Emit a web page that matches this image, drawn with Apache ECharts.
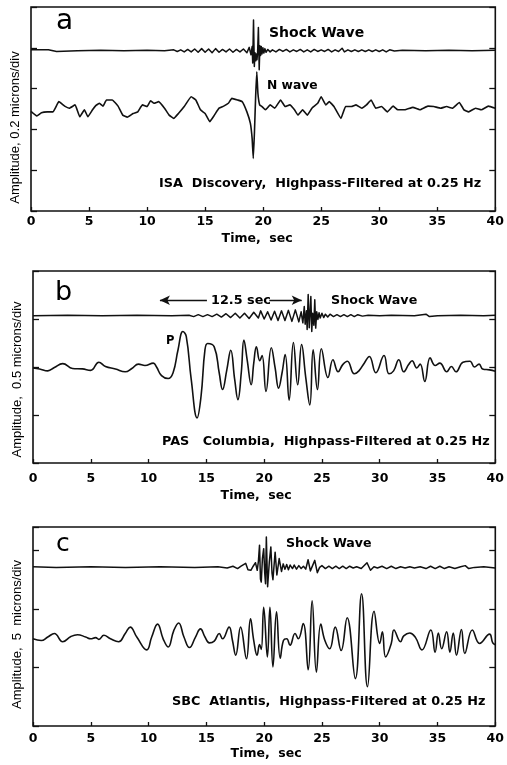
<!DOCTYPE html>
<html><head><meta charset="utf-8">
<script src="https://cdn.jsdelivr.net/npm/echarts@6/dist/echarts.min.js"></script>
<style>html,body{margin:0;padding:0;background:#fff}#c{width:507px;height:765px}</style>
</head><body><div id="c"></div>
<script>
// ---------- data (time in s, amplitude deviation in divisions) ----------
const timeTicks = [0, 5, 10, 15, 20, 25, 30, 35, 40];
const panelLetters = ['a', 'b', 'c'];
const stationNotes = [
  'ISA  Discovery,  Highpass-Filtered at 0.25 Hz',
  'PAS   Columbia,  Highpass-Filtered at 0.25 Hz',
  'SBC  Atlantis,  Highpass-Filtered at 0.25 Hz'
];
const yNames = ['Amplitude, 0.2 microns/div', 'Amplitude,  0.5 microns/div', 'Amplitude,  5  microns/div'];
const xName = 'Time,  sec';

const aShock = [[0,0.02],[1.5,0.02],[2.2,-0.02],[4,0],[6,0.01],[8,0],[10,0.01],[11.5,0],[12.3,0.02],[12.6,-0.02],[12.9,0.02],[13.2,-0.03],[13.5,0.03],[13.8,-0.03],[14.1,0.04],[14.4,-0.04],[14.7,0.05],[15.0,-0.04],[15.3,0.04],[15.6,-0.05],[15.9,0.05],[16.2,-0.04],[16.5,0.03],[16.8,-0.03],[17.1,0.04],[17.4,-0.04],[17.7,0.03],[18.0,-0.03],[18.3,0.04],[18.6,-0.05],[18.8,0.08],[18.95,-0.1],[19.05,0.1],[19.1,-0.3],[19.17,0.75],[19.24,-0.39],[19.3,-0.05],[19.36,-0.25],[19.42,-0.08],[19.47,-0.22],[19.52,-0.05],[19.59,0.57],[19.66,-0.47],[19.72,0.12],[19.78,-0.12],[19.84,0.1],[19.9,-0.08],[19.98,0.07],[20.06,-0.06],[20.15,0.05],[20.25,-0.04],[20.4,0.03],[20.6,-0.03],[20.8,0.02],[21.1,-0.03],[21.4,0.03],[21.7,-0.02],[22.0,0.03],[22.3,-0.03],[22.6,0.02],[22.9,-0.02],[23.2,0.03],[23.5,-0.03],[23.8,0.02],[24.1,-0.03],[24.4,0.03],[24.7,-0.02],[25.0,0.02],[25.3,-0.02],[25.6,0.03],[25.9,-0.03],[26.2,0.02],[26.5,-0.02],[26.8,0.06],[27.0,-0.03],[27.3,0.02],[27.6,-0.02],[27.9,0.02],[28.2,-0.02],[28.5,0.02],[28.8,-0.02],[29.1,0.02],[29.4,-0.02],[29.7,0.02],[30.0,-0.02],[30.3,0.02],[30.6,-0.03],[30.9,0.02],[31.3,-0.01],[32,0.01],[34,0],[36,0.01],[38,0],[40,0.01]];

const aTrace = [[0,-0.04],[0.5,-0.15],[0.9,-0.07],[1.4,-0.05],[1.9,-0.05],[2.4,0.2],[2.9,0.09],[3.3,0.04],[3.8,0.12],[4.2,-0.17],[4.6,0],[4.9,-0.17],[5.3,0],[5.6,0.11],[5.9,0.16],[6.2,0.09],[6.5,0.24],[7.0,0.24],[7.5,0.09],[7.9,-0.13],[8.3,-0.18],[8.8,-0.09],[9.2,-0.05],[9.6,0.12],[10.0,0.08],[10.3,0.22],[10.6,0.16],[11.0,0.2],[11.5,0.04],[11.9,-0.13],[12.3,-0.21],[12.7,-0.09],[13.2,0.08],[13.8,0.32],[14.2,0.24],[14.6,0],[15.0,-0.09],[15.4,-0.29],[15.8,-0.13],[16.2,0.04],[16.6,0.09],[17.0,0.16],[17.3,0.28],[17.8,0.24],[18.2,0.2],[18.6,-0.05],[18.9,-0.33],[19.05,-0.7],[19.15,-1.19],[19.25,-0.55],[19.35,0.3],[19.45,0.93],[19.55,0.4],[19.7,0.12],[19.9,0.08],[20.2,0],[20.6,0.12],[21.0,0.04],[21.5,0.24],[21.9,0.08],[22.3,0.12],[22.7,0],[23.0,-0.13],[23.4,0],[23.8,-0.13],[24.2,0.04],[24.7,0.16],[25.0,0.32],[25.4,0.12],[25.7,0.2],[26.1,0.08],[26.7,-0.21],[27.1,0.08],[27.6,0.08],[28.0,0.12],[28.5,0.04],[28.9,0.12],[29.3,0.24],[29.7,0.04],[30.2,0.08],[30.7,-0.05],[31.2,0.09],[31.6,0],[32.2,0],[32.9,0.06],[33.5,0],[34.2,0.09],[34.7,0.08],[35.3,0.04],[35.8,0.08],[36.3,0.04],[36.9,0.18],[37.3,0],[37.7,-0.05],[38.3,0.04],[38.8,0],[39.4,0.09],[40,0.04]];

const bShock = [[0,0],[3,0.01],[6,0],[9,0.01],[12,0],[13.5,0.01],[13.9,-0.02],[14.3,0.02],[14.7,-0.02],[15.1,0.02],[15.5,-0.02],[15.9,0.03],[16.3,-0.03],[16.7,0.04],[17.1,-0.04],[17.5,0.05],[17.9,-0.05],[18.3,0.05],[18.7,-0.06],[19.1,0.07],[19.5,-0.05],[19.7,0.1],[20.0,-0.07],[20.3,0.08],[20.6,-0.09],[20.9,0.09],[21.2,-0.1],[21.5,0.1],[21.8,-0.1],[22.1,0.11],[22.4,-0.12],[22.7,0.12],[23.0,-0.13],[23.2,0.08],[23.35,-0.15],[23.47,0.19],[23.55,-0.18],[23.66,0.1],[23.72,-0.29],[23.81,0.44],[23.9,-0.25],[23.97,0.05],[24.04,0.4],[24.12,-0.33],[24.2,0.05],[24.3,-0.2],[24.38,0.33],[24.46,-0.26],[24.55,0.08],[24.65,-0.08],[24.75,0.06],[24.85,-0.05],[25.0,0.05],[25.15,-0.04],[25.3,0.03],[25.5,-0.03],[25.7,0.03],[26.0,-0.02],[26.3,0.02],[26.6,-0.02],[26.9,0.02],[27.2,-0.02],[27.5,0.02],[27.8,-0.02],[28.1,0.02],[28.5,-0.01],[29,0.01],[30,0],[31,0.01],[33,0],[34,0.03],[34.3,-0.02],[35,0],[37,0.01],[39,0],[40,0.01]];

const bTrace = [[0,0],[0.57,-0.02],[1.28,-0.06],[1.85,0.01],[2.57,0.09],[3.42,-0.01],[4.28,-0.02],[4.99,-0.05],[5.7,0.12],[6.27,0.03],[7.13,-0.02],[7.98,-0.08],[8.55,-0.01],[9.12,0.08],[9.69,0.05],[10.41,0.1],[10.69,0.02],[11.12,-0.16],[11.69,-0.22],[12.12,-0.1],[12.55,0.38],[12.97,0.76],[13.26,0.66],[13.69,-0.24],[14.2,-1.04],[14.54,-0.59],[14.88,0.38],[15.11,0.51],[15.68,0.44],[16.11,-0.1],[16.4,-0.45],[16.77,-0.04],[17.11,0.37],[17.45,-0.24],[17.73,-0.66],[18.02,-0.1],[18.25,0.58],[18.53,0.17],[18.88,-0.35],[19.1,0.1],[19.33,0.44],[19.62,0.15],[19.82,0.26],[20.16,-0.49],[20.62,0.42],[20.95,0.0],[21.25,-0.42],[21.55,-0.1],[21.82,0.28],[22.16,-0.67],[22.53,0.53],[22.9,-0.35],[23.24,0.49],[23.6,-0.2],[23.95,-0.77],[24.24,0.38],[24.61,-0.45],[24.95,0.4],[25.52,-0.2],[25.95,0.17],[26.4,-0.08],[26.8,0.07],[27.2,0.14],[27.8,-0.12],[28.2,-0.06],[28.66,0.1],[29.1,0.24],[29.66,-0.1],[30.37,0.26],[30.8,-0.12],[31.2,-0.06],[31.65,0.17],[32.08,-0.08],[32.5,0.07],[32.8,0.15],[33.2,0.0],[33.5,0.08],[33.9,-0.28],[34.36,0.21],[34.8,0.05],[35.2,0.1],[35.8,-0.08],[36.2,0.03],[36.6,-0.08],[37.2,0.12],[37.8,0.14],[38.2,0.02],[38.6,0.08],[38.9,-0.02],[39.5,-0.04],[40,-0.07]];

const cShock = [[0,0.01],[2,0],[5,0.01],[8,0],[11,0.01],[14,0],[16,0.01],[16.8,-0.01],[17.3,0.02],[17.7,-0.02],[18.0,0.02],[18.4,0.07],[18.6,-0.04],[18.85,-0.05],[19.05,0.02],[19.25,0.08],[19.4,-0.05],[19.5,0.1],[19.6,0.38],[19.68,-0.2],[19.75,-0.25],[19.85,0.15],[19.96,0.32],[20.05,-0.1],[20.12,-0.28],[20.19,0.52],[20.3,-0.33],[20.45,0.1],[20.58,0.35],[20.68,-0.1],[20.76,-0.21],[20.95,0.26],[21.1,-0.13],[21.3,0.15],[21.5,-0.07],[21.65,0.06],[21.8,-0.03],[21.95,0.05],[22.1,-0.04],[22.25,0.04],[22.45,-0.02],[22.6,0.04],[22.8,-0.03],[23.0,0.03],[23.2,-0.02],[23.4,0.02],[23.6,-0.03],[23.8,0.13],[24.0,-0.06],[24.15,-0.03],[24.38,0.12],[24.6,-0.09],[24.8,0.0],[25.0,0.03],[25.3,-0.02],[25.6,0.02],[25.9,-0.02],[26.2,0.02],[26.5,-0.02],[26.8,0.02],[27.1,-0.02],[27.4,0.02],[27.7,-0.01],[28.0,0.01],[28.4,-0.02],[28.9,0.08],[29.2,-0.05],[29.5,0.01],[29.8,-0.01],[30.2,0.02],[30.6,-0.02],[31.0,0.02],[31.4,-0.02],[31.8,0.01],[32.2,-0.01],[32.6,0.01],[33.0,-0.01],[33.5,0.01],[34.0,-0.02],[34.4,0.02],[34.8,-0.02],[35.2,0.02],[35.6,-0.02],[36.0,0.01],[36.5,-0.02],[37.0,0.01],[37.4,0.03],[37.7,-0.02],[38.2,0],[39,0.01],[40,-0.01]];

const cTrace = [[0,-0.02],[0.71,-0.05],[1.28,0.01],[1.85,0.07],[2.57,-0.07],[3.28,0.02],[3.85,0.05],[4.56,0.01],[4.99,-0.02],[5.42,0],[5.7,-0.03],[6.13,0.04],[6.7,-0.02],[7.41,-0.07],[7.98,0.07],[8.41,0.18],[8.98,0.01],[9.84,-0.21],[10.27,0.01],[10.78,0.23],[11.26,-0.02],[11.69,-0.16],[12.18,0.12],[12.6,0.25],[13.06,0.01],[13.54,-0.17],[14.06,0.01],[14.49,0.15],[14.88,0.01],[15.26,-0.09],[15.68,-0.06],[16.11,0.07],[16.4,-0.02],[16.97,0.18],[17.25,-0.04],[17.54,-0.3],[17.96,0.18],[18.47,-0.36],[18.82,0.32],[19.1,-0.05],[19.39,-0.3],[19.6,-0.12],[19.75,-0.2],[19.96,0.52],[20.28,-0.33],[20.5,0.52],[20.76,-0.5],[21.07,0.44],[21.39,-0.35],[21.67,-0.05],[21.95,-0.02],[22.24,-0.13],[22.67,0.07],[22.95,-0.02],[23.38,0.24],[23.81,-0.55],[24.15,0.63],[24.52,-0.59],[24.9,0.23],[25.24,-0.04],[25.67,-0.19],[26.15,0.18],[26.66,-0.22],[27.18,0.34],[27.89,-0.7],[28.43,0.75],[28.94,-0.84],[29.51,0.45],[30.0,-0.1],[30.23,0.1],[30.51,-0.33],[31.0,-0.1],[31.23,0.13],[31.8,-0.07],[32.08,0.03],[32.6,0.08],[33.1,0.0],[33.65,-0.21],[34.42,0.13],[34.79,-0.25],[35.07,0.08],[35.36,-0.19],[35.79,0.1],[36.07,-0.25],[36.36,0.08],[36.64,-0.3],[37.07,0.14],[37.36,-0.27],[38.01,0.13],[38.64,-0.1],[39.5,0.06],[39.78,-0.09],[40,-0.12]];

const arrowSpan = [10.98, 23.25]; // the "12.5 sec" interval as drawn

// ---------- layout / style ----------
const INK = '#111';
const panels = [
  {grid:{left:31, top:7, width:466, height:204}, yMax:5, shockBase:3.93, traceBase:2.48, shock:aShock, trace:aTrace, traceSmooth:0.1,
   labelMargin:4.5, nameGap:21, namePad:[0,12,0,0], yPad:[0,37,0,0]},
  {grid:{left:33, top:271, width:468, height:192}, yMax:4, shockBase:3.07, traceBase:1.98, shock:bShock, trace:bTrace, traceSmooth:0.45,
   labelMargin:9, nameGap:26, namePad:[0,16,0,0], yPad:[0,25,0,0]},
  {grid:{left:33, top:527, width:468, height:199}, yMax:3.4, shockBase:2.71, traceBase:1.51, shock:cShock, trace:cTrace, traceSmooth:0.45,
   labelMargin:6.5, nameGap:21, namePad:[0,0,0,4], yPad:[0,16,0,0]}
];

const grid = [], xAxis = [], yAxis = [], series = [];
panels.forEach((p, i) => {
  grid.push(Object.assign({show:true, borderColor:INK, borderWidth:1.6, backgroundColor:'transparent'}, p.grid));
  xAxis.push({
    type:'value', gridIndex:i, min:timeTicks[0], max:timeTicks[timeTicks.length-1], interval:timeTicks[1]-timeTicks[0],
    axisLine:{show:false}, splitLine:{show:false},
    axisTick:{show:true, inside:true, length:4, lineStyle:{color:INK, width:1.3}},
    axisLabel:{color:'#000', fontFamily:'DejaVu Sans', fontWeight:'bold', fontSize:12.5, margin:p.labelMargin},
    name:xName, nameLocation:'middle', nameGap:p.nameGap,
    nameTextStyle:{color:'#000', fontFamily:'DejaVu Sans', fontWeight:'bold', fontSize:12.5, padding:p.namePad}
  });
  const yBase = {type:'value', gridIndex:i, min:0, max:p.yMax, interval:1,
    axisLine:{show:false}, splitLine:{show:false}, axisLabel:{show:false},
    axisTick:{show:true, inside:true, length:6, lineStyle:{color:INK, width:1.3}}};
  yAxis.push(Object.assign({}, yBase, {position:'left', name:yNames[i], nameLocation:'middle', nameGap:9, nameRotate:90,
    nameTextStyle:{color:'#000', fontFamily:'Liberation Sans', fontSize:13, padding:p.yPad}}));
  yAxis.push(Object.assign({}, yBase, {position:'right'}));
  const shockSeries = {
    type:'line', xAxisIndex:i, yAxisIndex:2*i, showSymbol:false, symbol:'none', smooth:false,
    lineStyle:{color:INK, width:1.5, join:'round'}, data:p.shock.map(d => [d[0], d[1] + p.shockBase]), z:3
  };
  if (i === 1) {
    const ay = p.shockBase + 0.32;
    shockSeries.markLine = {
      silent:true, animation:false, symbol:['none','none'], symbolSize:[7,10], label:{show:false},
      lineStyle:{color:INK, width:1.3, type:'solid'},
      data:[
        [{coord:[arrowSpan[0], ay], symbol:'arrow'}, {coord:[15.05, ay], symbol:'none'}],
        [{coord:[20.45, ay], symbol:'none'}, {coord:[arrowSpan[1], ay], symbol:'arrow'}]
      ]
    };
  }
  series.push(shockSeries);
  series.push({
    type:'line', xAxisIndex:i, yAxisIndex:2*i, showSymbol:false, symbol:'none', smooth:p.traceSmooth,
    lineStyle:{color:INK, width:1.6, join:'round'}, data:p.trace.map(d => [d[0], d[1] + p.traceBase]), z:3
  });
});

function txt(text, x, y, size, weight, family) {
  return {type:'text', silent:true, z:10, style:{text:text, x:x, y:y, fill:'#000', align:'left', verticalAlign:'middle',
    fontSize:size, fontWeight:weight || 'bold', fontFamily:family || 'DejaVu Sans'}};
}
const graphic = [
  txt(panelLetters[0], 56, 22, 28, 'normal'),
  txt(panelLetters[1], 55, 292.5, 27, 'normal'),
  txt(panelLetters[2], 56, 544.5, 25, 'normal'),
  txt('Shock Wave', 269, 33, 14),
  txt('N wave', 267, 85.5, 12.3),
  txt(stationNotes[0], 159, 184, 12.8),
  txt('12.5 sec', 211, 300.5, 12.8),
  txt('Shock Wave', 331, 300.5, 12.7),
  txt('P', 166, 341, 11.5),
  txt(stationNotes[1], 162, 442, 12.8),
  txt('Shock Wave', 286, 543.5, 12.6),
  txt(stationNotes[2], 172, 701.5, 12.8)
];

const chart = echarts.init(document.getElementById('c'), null, {renderer:'canvas'});
chart.setOption({animation:false, backgroundColor:'#fff', grid, xAxis, yAxis, series, graphic});
</script></body></html>
